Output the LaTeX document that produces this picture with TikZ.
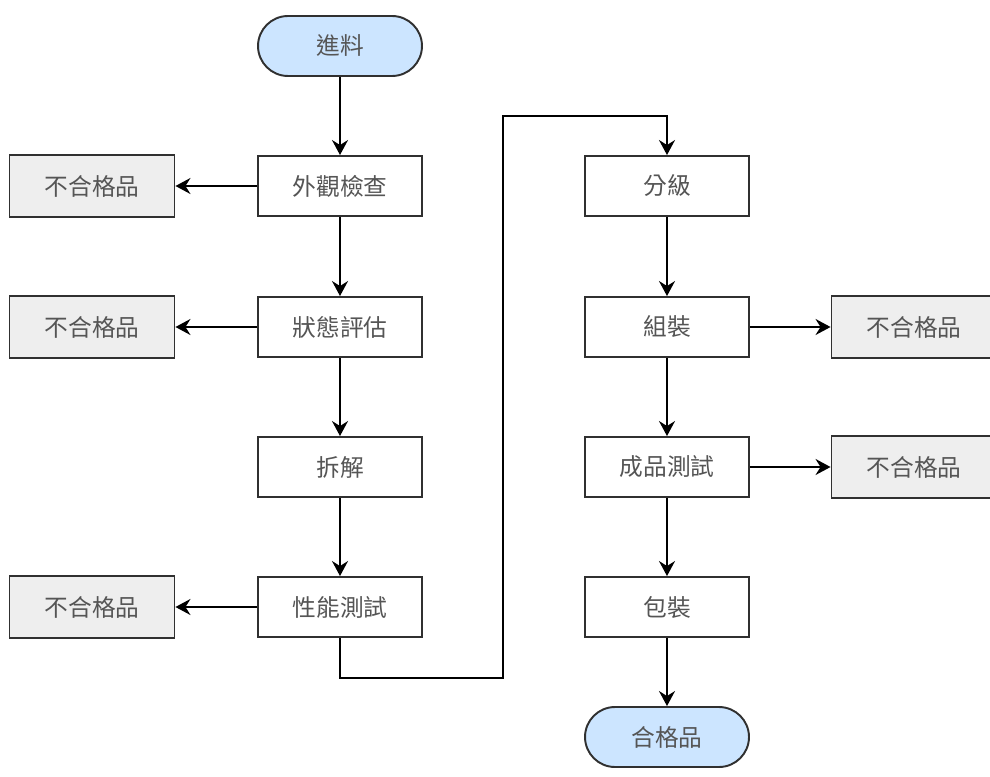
\documentclass[tikz,border=0pt]{standalone}
\usepackage{fontspec}
\newfontfamily\cjk{Noto Sans CJK TC}
\usetikzlibrary{arrows.meta, positioning}
\definecolor{termblue}{HTML}{CCE5FF}
\definecolor{rejgray}{HTML}{EEEEEE}
\definecolor{txtgray}{HTML}{555555}
\definecolor{edge}{HTML}{303030}

\begin{document}
\begin{tikzpicture}[
  x=0.02cm, y=-0.02cm,
  %%── Styles ───────────────────────────────────────────────────────────────
  proc/.style={
    rectangle, draw=edge, fill=white, line width=1.1pt,
    minimum width=3.28cm, minimum height=1.2cm,
    text=txtgray, font=\cjk\fontsize{13.5}{16}\selectfont
  },
  term/.style={
    proc, fill=termblue, rounded corners=0.6cm
  },
  reject/.style={
    proc, fill=rejgray, minimum width=3.3cm, minimum height=1.24cm
  },
  flow/.style={draw=black, line width=1.1pt,
    -{Stealth[length=3mm, width=3.2mm, inset=1mm]}},
]
\useasboundingbox (0,0) rectangle (990,777);

%%── Left column (x = 340) ───────────────────────────────────────────────
\node[term] (intake) at (340, 46)  {進料};
\node[proc] (visual) at (340,186)  {外觀檢查};
\node[proc] (assess) at (340,327)  {狀態評估};
\node[proc] (disasm) at (340,467)  {拆解};
\node[proc] (perf)   at (340,607)  {性能測試};

%%── Right column (x = 667) ──────────────────────────────────────────────
\node[proc] (grade)  at (667,186)  {分級};
\node[proc] (assem)  at (667,327)  {組裝};
\node[proc] (final)  at (667,467)  {成品測試};
\node[proc] (pack)   at (667,607)  {包裝};
\node[term] (pass)   at (667,737)  {合格品};

%%── Reject boxes ────────────────────────────────────────────────────────
\node[reject] (rejA) at ( 92,186) {不合格品};
\node[reject] (rejB) at ( 92,327) {不合格品};
\node[reject] (rejC) at ( 92,607) {不合格品};
\node[reject] (rejD) at (914,327) {不合格品};
\node[reject] (rejE) at (914,467) {不合格品};

%%── Main flow ───────────────────────────────────────────────────────────
\draw[flow] (intake) -- (visual);
\draw[flow] (visual) -- (assess);
\draw[flow] (assess) -- (disasm);
\draw[flow] (disasm) -- (perf);

% loop from the left column over to the right one
\coordinate (loopbot) at (503,678);
\coordinate (looptop) at (503,116);
\draw[flow] (perf.south) |- (loopbot) -- (looptop) -| (grade.north);

\draw[flow] (grade) -- (assem);
\draw[flow] (assem) -- (final);
\draw[flow] (final) -- (pack);
\draw[flow] (pack)  -- (pass);

%%── Rejects ─────────────────────────────────────────────────────────────
\foreach \src/\dst in {visual/rejA, assess/rejB, perf/rejC, assem/rejD, final/rejE} {
  \draw[flow] (\src) -- (\dst);
}

\end{tikzpicture}
\end{document}
